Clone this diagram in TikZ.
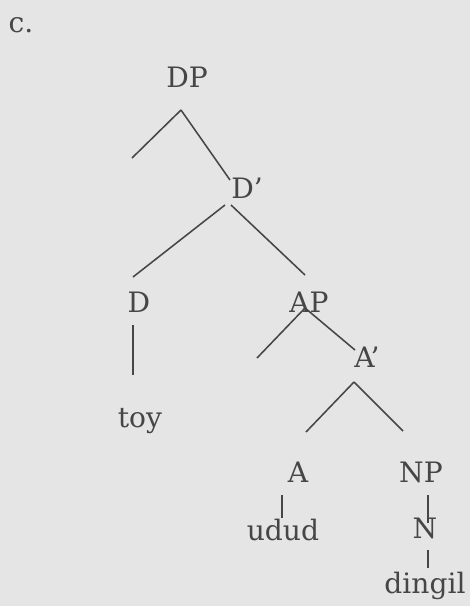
\documentclass[tikz,border=0pt]{standalone}
\usepackage{fontspec}
\setmainfont{DejaVu Serif}
\definecolor{paper}{RGB}{229,229,229}
\definecolor{ink}{RGB}{70,70,70}

\begin{document}
\begin{tikzpicture}[x=0.025cm,y=-0.025cm,
  lbl/.style={inner sep=0pt,anchor=base,text=ink,font=\fontsize{20}{24}\selectfont},
  branch/.style={draw=ink,line width=1.1pt}]
% paper
\fill[paper] (0,0) rectangle (470,606);
\useasboundingbox (0,0) rectangle (470,606);

% labels
\node[lbl] (ex) at (21,32) {c.};
\node[lbl] (dp) at (187,87) {DP};
\node[lbl] (dbar) at (247,198) {D'};
\node[lbl] (d) at (139,312) {D};
\node[lbl] (ap) at (309,312) {AP};
\node[lbl] (toy) at (140,427) {toy};
\node[lbl] (abar) at (367,367) {A'};
\node[lbl] (a) at (298,482) {A};
\node[lbl] (np) at (421,482) {NP};
\node[lbl] (udud) at (283,540) {udud};
\node[lbl] (n) at (425,538) {N};
\node[lbl] (dingil) at (425,593) {dingil};

% branch points
\coordinate (dp-fork) at (181,110);
\coordinate (dp-stub) at (132,158);
\coordinate (dbar-top) at (230,180);
\coordinate (dbar-forkl) at (225,205);
\coordinate (dbar-forkr) at (231,205);
\coordinate (d-top) at (133,277);
\coordinate (ap-top) at (305,275);
\coordinate (ap-fork) at (305,308);
\coordinate (ap-stub) at (257,358);
\coordinate (abar-top) at (355,350);
\coordinate (abar-fork) at (354,382);
\coordinate (a-top) at (306,432);
\coordinate (np-top) at (403,431);

% branches
\draw[branch] (dp-fork) -- (dp-stub);
\draw[branch] (dp-fork) -- (dbar-top);
\draw[branch] (dbar-forkl) -- (d-top);
\draw[branch] (dbar-forkr) -- (ap-top);
\draw[branch] (ap-fork) -- (ap-stub);
\draw[branch] (ap-fork) -- (abar-top);
\draw[branch] (abar-fork) -- (a-top);
\draw[branch] (abar-fork) -- (np-top);

% unary lines
\coordinate (d-foot) at (133,325);
\coordinate (toy-head) at (133,375);
\coordinate (a-foot) at (282,495);
\coordinate (udud-head) at (282,518);
\coordinate (np-foot) at (428,495);
\coordinate (n-head) at (428,523);
\coordinate (n-foot) at (428,550);
\coordinate (dingil-head) at (428,568);
\draw[branch] (d-foot) -- (toy-head);
\draw[branch] (a-foot) -- (udud-head);
\draw[branch] (np-foot) -- (n-head);
\draw[branch] (n-foot) -- (dingil-head);

\end{tikzpicture}
\end{document}
